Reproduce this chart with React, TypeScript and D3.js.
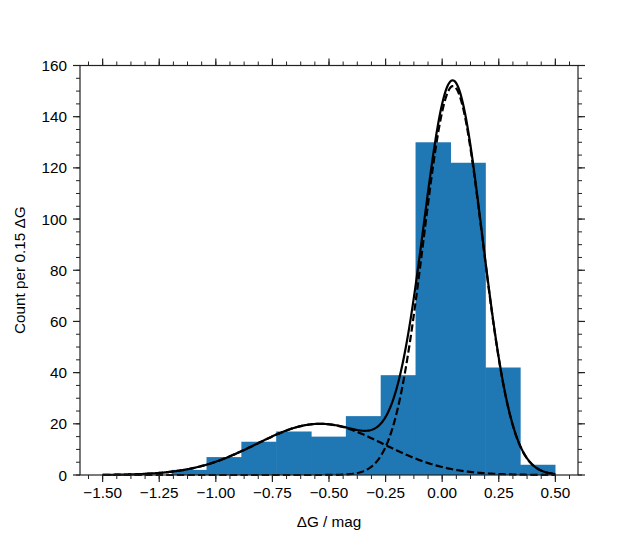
import React from "react";
import * as d3 from "d3";

// Histogram data
const binStart = -1.195;
const binWidth = 0.1539;
const counts = [2, 7, 13, 17, 15, 23, 39, 130, 122, 42, 4];

// Gaussian mixture model components (amplitude in counts per bin, mean, sigma)
const compAmp = [152, 20];
const compMu = [0.048, -0.54];
const compSigma = [0.13, 0.28];
const curveRange = [-1.5, 0.5];

const xTicks = [-1.5, -1.25, -1.0, -0.75, -0.5, -0.25, 0.0, 0.25, 0.5];
const yTicks = [0, 20, 40, 60, 80, 100, 120, 140, 160];

const W = 642;
const H = 534;
const M = { left: 80, right: 578, top: 65.5, bottom: 475 };

function fmtX(v: number) {
  const s = Math.abs(v).toFixed(2);
  return v < 0 ? "\u2212" + s : s;
}

export default function App() {
  const x = d3.scaleLinear().domain([-1.6, 0.6]).range([M.left, M.right]);
  const y = d3.scaleLinear().domain([0, 160]).range([M.bottom, M.top]);

  const bins = counts.map((c, i) => ({
    x0: binStart + i * binWidth,
    x1: binStart + (i + 1) * binWidth,
    c,
  }));

  const xs = d3.range(0, 401).map((i) => curveRange[0] + (i / 400) * (curveRange[1] - curveRange[0]));
  const g = (k: number, v: number) =>
    compAmp[k] * Math.exp(-0.5 * ((v - compMu[k]) / compSigma[k]) ** 2);
  const line = d3
    .line<[number, number]>()
    .x((d) => x(d[0]))
    .y((d) => y(d[1]));
  const total = line(xs.map((v) => [v, g(0, v) + g(1, v)] as [number, number])) || "";
  const c0 = line(xs.map((v) => [v, g(0, v)] as [number, number])) || "";
  const c1 = line(xs.map((v) => [v, g(1, v)] as [number, number])) || "";

  const xMinorAll: number[] = [];
  for (let v = -1.5 - 0.0625; v <= 0.6 + 1e-9; v += 0.0625) {
    if (v >= -1.6 - 1e-9) xMinorAll.push(v);
  }
  const yMinor = d3.range(0, 161, 5);

  const font = "'Liberation Sans', Arial, sans-serif";
  const fs = 15.3;
  const tc = "#222";
  const maj = 7;
  const min = 4;

  return (
    <svg width={W} height={H} style={{ position: "absolute", left: 0, top: 0 }}>
      <rect width={W} height={H} fill="#fff" />
      {bins.map((b, i) => (
        <rect
          key={i}
          x={x(b.x0)}
          y={y(b.c)}
          width={x(b.x1) - x(b.x0) + 0.6}
          height={y(0) - y(b.c)}
          fill="#1f77b4"
        />
      ))}
      <path d={c0} fill="none" stroke="#000" strokeWidth={2.2} strokeDasharray="7.4,3.2" />
      <path d={c1} fill="none" stroke="#000" strokeWidth={2.2} strokeDasharray="7.4,3.2" />
      <path d={total} fill="none" stroke="#000" strokeWidth={2.2} />

      {/* spines */}
      <rect
        x={M.left}
        y={M.top}
        width={M.right - M.left}
        height={M.bottom - M.top}
        fill="none"
        stroke={tc}
        strokeWidth={1.2}
      />
      {xMinorAll.map((v, i) => (
        <g key={"xm" + i}>
          <line x1={x(v)} x2={x(v)} y1={M.bottom} y2={M.bottom + min} stroke={tc} strokeWidth={1} />
          <line x1={x(v)} x2={x(v)} y1={M.top} y2={M.top - min} stroke={tc} strokeWidth={1} />
        </g>
      ))}
      {xTicks.map((v, i) => (
        <g key={"xt" + i}>
          <line x1={x(v)} x2={x(v)} y1={M.bottom} y2={M.bottom + maj} stroke={tc} strokeWidth={1.2} />
          <line x1={x(v)} x2={x(v)} y1={M.top} y2={M.top - maj} stroke={tc} strokeWidth={1.2} />
          <text
            x={x(v)}
            y={M.bottom + maj + 16}
            textAnchor="middle"
            fontFamily={font}
            fontSize={fs}
            fill="#000"
          >
            {fmtX(v)}
          </text>
        </g>
      ))}
      {yMinor.map((v, i) => (
        <g key={"ym" + i}>
          <line x1={M.left} x2={M.left - min} y1={y(v)} y2={y(v)} stroke={tc} strokeWidth={1} />
          <line x1={M.right} x2={M.right + min} y1={y(v)} y2={y(v)} stroke={tc} strokeWidth={1} />
        </g>
      ))}
      {yTicks.map((v, i) => (
        <g key={"yt" + i}>
          <line x1={M.left} x2={M.left - maj} y1={y(v)} y2={y(v)} stroke={tc} strokeWidth={1.2} />
          <line x1={M.right} x2={M.right + maj} y1={y(v)} y2={y(v)} stroke={tc} strokeWidth={1.2} />
          <text
            x={M.left - maj - 6}
            y={y(v) + 5.5}
            textAnchor="end"
            fontFamily={font}
            fontSize={fs}
            fill="#000"
          >
            {v}
          </text>
        </g>
      ))}
      <text
        x={(M.left + M.right) / 2}
        y={527}
        textAnchor="middle"
        fontFamily={font}
        fontSize={fs}
        fill="#000"
      >
        ΔG / mag
      </text>
      <text
        transform={`translate(25,${(M.top + M.bottom) / 2}) rotate(-90)`}
        textAnchor="middle"
        fontFamily={font}
        fontSize={fs}
        fill="#000"
      >
        Count per 0.15 ΔG
      </text>
    </svg>
  );
}
